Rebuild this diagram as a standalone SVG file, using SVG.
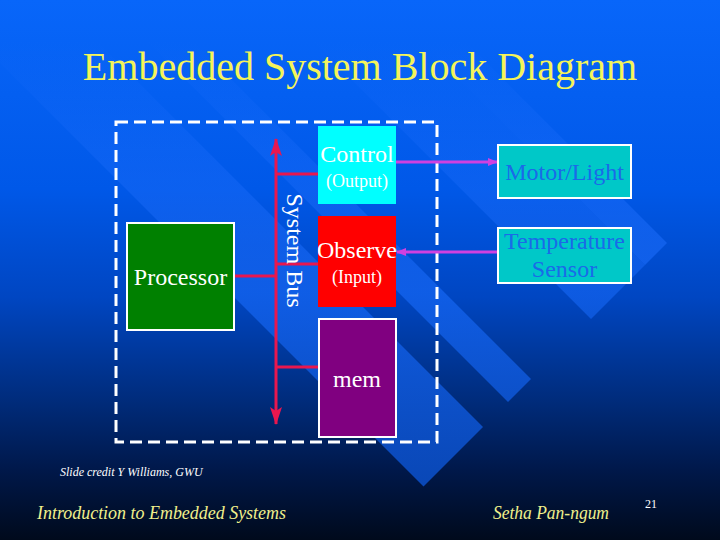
<svg xmlns="http://www.w3.org/2000/svg" width="720" height="540" viewBox="0 0 720 540">
  <defs>
    <linearGradient id="bg" x1="0" y1="0" x2="0" y2="540" gradientUnits="userSpaceOnUse">
      <stop offset="0" stop-color="#0866fa"/>
      <stop offset="0.35" stop-color="#0058e8"/>
      <stop offset="0.55" stop-color="#0046c2"/>
      <stop offset="0.74" stop-color="#002c7c"/>
      <stop offset="0.87" stop-color="#00184a"/>
      <stop offset="1" stop-color="#000a1c"/>
    </linearGradient>
    <linearGradient id="band" x1="0" y1="40" x2="0" y2="500" gradientUnits="userSpaceOnUse">
      <stop offset="0" stop-color="#2070ff" stop-opacity="0"/>
      <stop offset="0.3" stop-color="#1c6cfa" stop-opacity="0.45"/>
      <stop offset="0.55" stop-color="#1464f0" stop-opacity="0.85"/>
      <stop offset="1" stop-color="#0a4cc2" stop-opacity="1"/>
    </linearGradient>
    <marker id="busHead" viewBox="0 0 18 12" refX="17" refY="6" markerWidth="18" markerHeight="12" markerUnits="userSpaceOnUse" orient="auto-start-reverse">
      <path d="M0,0 L18,6 L0,12 L4,6 Z" fill="#e8174f"/>
    </marker>
    <marker id="sigHead" viewBox="0 0 10 8" refX="9" refY="4" markerWidth="10" markerHeight="8" markerUnits="userSpaceOnUse" orient="auto">
      <path d="M0,0 L10,4 L0,8 Z" fill="#d040e0"/>
    </marker>
  </defs>
  <style>
    text { font-family: "Liberation Serif", "DejaVu Serif", serif; }
    .title { font-size: 40px; fill: #f4f45a; }
    .lbl { font-size: 24px; fill: #ffffff; }
    .sub { font-size: 18px; fill: #ffffff; }
    .ext { font-size: 24px; fill: #1a6ae8; }
    .foot { font-style: italic; fill: #f0f08c; font-size: 18px; }
    .bus { stroke: #e8174f; stroke-width: 3; fill: none; }
    .sig { stroke: #d040e0; stroke-width: 3; fill: none; }
    .box { stroke: #ffffff; stroke-width: 2; }
  </style>

  <!-- background -->
  <rect x="0" y="0" width="720" height="540" fill="url(#bg)"/>
  <g id="background-bands">
    <polygon points="380,0 424,0 667,243 645,265" fill="url(#band)"/>
    <polygon points="380,0 645,265 591,319 272,0" fill="url(#band)" opacity="0.8"/>
    <polygon points="152,0 531,379 508,402 106,0" fill="url(#band)" opacity="0.9"/>
    <polygon points="56,0 483,427 423.5,486.5 0,63 0,0" fill="url(#band)" opacity="0.9"/>
  </g>

  <!-- title -->
  <text class="title" x="360" y="80" text-anchor="middle">Embedded System Block Diagram</text>

  <!-- dashed system boundary -->
  <rect id="boundary" x="116" y="122" width="321" height="320" fill="none" stroke="#ffffff" stroke-width="3" stroke-dasharray="12,6"/>

  <!-- connectors -->
  <g id="connectors">
    <line class="bus" x1="276" y1="424" x2="276" y2="139" marker-start="url(#busHead)" marker-end="url(#busHead)"/>
    <line class="bus" x1="276" y1="174" x2="318" y2="174"/>
    <line class="bus" x1="276" y1="264" x2="318" y2="264"/>
    <line class="bus" x1="234" y1="276" x2="276" y2="276"/>
    <line class="bus" x1="276" y1="367" x2="318" y2="367"/>
    <line class="sig" x1="396" y1="162" x2="497" y2="162" marker-end="url(#sigHead)"/>
    <line class="sig" x1="498" y1="252" x2="397" y2="252" marker-end="url(#sigHead)"/>
  </g>

  <g id="system-bus-label">
    <text class="lbl" transform="translate(287,250.5) rotate(90)" text-anchor="middle">System Bus</text>
  </g>

  <g id="processor">
    <rect class="box" x="127" y="223" width="107" height="107" fill="#008000"/>
    <text class="lbl" x="180.5" y="285" text-anchor="middle">Processor</text>
  </g>

  <g id="control">
    <rect x="318" y="126" width="78" height="78" fill="#00ffff"/>
    <text class="lbl" x="357" y="162" text-anchor="middle">Control</text>
    <text class="sub" x="357" y="187" text-anchor="middle">(Output)</text>
  </g>

  <g id="observe">
    <rect x="318" y="216" width="78" height="91" fill="#ff0000"/>
    <text class="lbl" x="357" y="258" text-anchor="middle">Observe</text>
    <text class="sub" x="357" y="283" text-anchor="middle">(Input)</text>
  </g>

  <g id="mem">
    <rect class="box" x="319" y="319" width="77" height="118" fill="#800080"/>
    <text class="lbl" x="357" y="387" text-anchor="middle">mem</text>
  </g>

  <g id="motor-light">
    <rect class="box" x="498" y="145" width="133" height="53" fill="#00c8c8"/>
    <text class="ext" x="564.5" y="180" text-anchor="middle">Motor/Light</text>
  </g>

  <g id="temperature-sensor">
    <rect class="box" x="498" y="228" width="133" height="55" fill="#00c8c8"/>
    <text class="ext" x="564.5" y="249" text-anchor="middle">Temperature</text>
    <text class="ext" x="564.5" y="277" text-anchor="middle">Sensor</text>
  </g>

  <!-- footer -->
  <text x="60" y="476" font-size="12" font-style="italic" fill="#ffffff">Slide credit Y Williams, GWU</text>
  <text class="foot" x="37" y="519" textLength="249" lengthAdjust="spacingAndGlyphs">Introduction to Embedded Systems</text>
  <text class="foot" x="493" y="519" textLength="116" lengthAdjust="spacingAndGlyphs">Setha Pan-ngum</text>
  <text x="651" y="508" font-size="12" fill="#ffffff" text-anchor="middle">21</text>
</svg>
